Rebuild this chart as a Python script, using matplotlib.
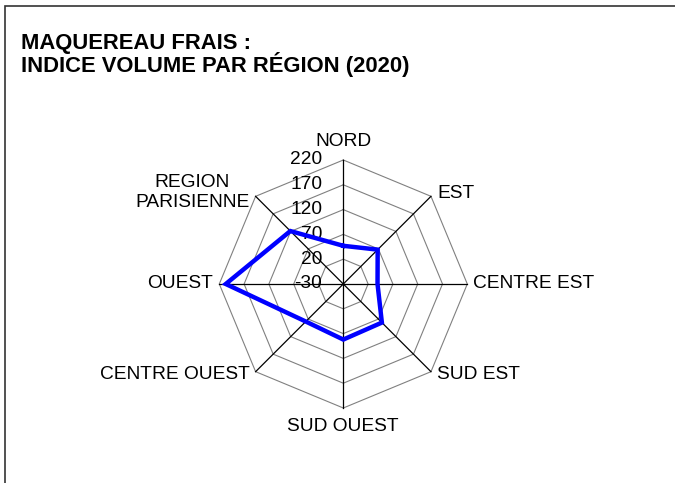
import numpy as np
import matplotlib
matplotlib.use("Agg")
import matplotlib.pyplot as plt
from matplotlib.patches import Rectangle

plt.rcParams['font.family'] = ['Liberation Sans', 'DejaVu Sans']

# Regional volume index for fresh mackerel, 2020
regions = ["NORD", "EST", "CENTRE EST", "SUD EST", "SUD OUEST",
           "CENTRE OUEST", "OUEST", "REGION\nPARISIENNE"]
values = [47, 68, 39, 80, 82, 77, 207, 121]
ticks = [-30, 20, 70, 120, 170, 220]

r_min, r_max = ticks[0], ticks[-1]
span = r_max - r_min

W, H, DPI = 675, 483, 100
fig = plt.figure(figsize=(W / DPI, H / DPI), dpi=DPI)

# Frame around the chart area
fig.patches.append(Rectangle((5 / W, -0.1), 1.2, 1 - 6 / H + 0.1,
                             transform=fig.transFigure, fill=False,
                             edgecolor='#333333', linewidth=1.2))

# Title, two lines
fig.text(21 / W, 1 - 48.5 / H, "MAQUEREAU FRAIS :", fontsize=15.8,
         fontweight='bold', ha='left', va='baseline')
fig.text(21 / W, 1 - 72 / H, "INDICE VOLUME PAR RÉGION (2020)", fontsize=15.8,
         fontweight='bold', ha='left', va='baseline')

# Radar axes: centre at (343, 284) px, outer ring radius 124 px
cx, cy, R = 343.3, 284.0, 124.0
lim = 300
px_per_unit = R / span
size = 2 * lim * px_per_unit
ax = fig.add_axes([(cx - size / 2) / W, (H - cy - size / 2) / H, size / W, size / H])
ax.set_xlim(-lim, lim)
ax.set_ylim(-lim, lim)
ax.set_aspect('equal')
ax.axis('off')

n = len(regions)
angles = np.pi / 2 - np.arange(n) * 2 * np.pi / n
ux, uy = np.cos(angles), np.sin(angles)


def closed(r):
    xs, ys = r * ux, r * uy
    return np.append(xs, xs[0]), np.append(ys, ys[0])


# Polygonal grid rings
for t in ticks[1:]:
    gx, gy = closed(t - r_min)
    ax.plot(gx, gy, color='#808080', linewidth=0.8, zorder=1)

# Spokes
for i in range(n):
    ax.plot([0, span * ux[i]], [0, span * uy[i]], color='black',
            linewidth=0.9, zorder=2)

# Tick labels along the NORD spoke
for t in ticks:
    ax.text(-21 / px_per_unit, t - r_min, str(t), fontsize=13.8,
            ha='right', va='center', zorder=3)

# Data polygon
px_, py_ = closed(np.array(values, dtype=float) - r_min)
ax.plot(px_, py_, color='#0000FF', linewidth=3.2, solid_joinstyle='miter',
        zorder=4)

# Category labels
off = 6 / px_per_unit
for i, name in enumerate(regions):
    x, y = span * ux[i], span * uy[i]
    c, s = ux[i], uy[i]
    if abs(c) < 1e-6:
        ha = 'center'
    elif c > 0:
        ha = 'left'
    else:
        ha = 'right'
    if abs(s) < 1e-6:
        va = 'center'
    elif s > 0:
        va = 'bottom' if ha == 'center' else 'center'
    else:
        va = 'top' if ha == 'center' else 'center'
    dx = off * np.sign(c) if ha != 'center' else 0
    dy = 0
    if ha == 'center':
        dy = (10 / px_per_unit) * np.sign(s)
    elif abs(s) > 1e-6:
        dy = 3 / px_per_unit * np.sign(s)
    if "\n" in name:
        ax.text(x + dx, y + 4 / px_per_unit, name, fontsize=13.8, ha='right',
                va='center', multialignment='center', linespacing=1.2,
                clip_on=False)
    else:
        ax.text(x + dx, y + dy, name, fontsize=13.8, ha=ha, va=va,
                clip_on=False)

fig.savefig("out.png", dpi=DPI)
